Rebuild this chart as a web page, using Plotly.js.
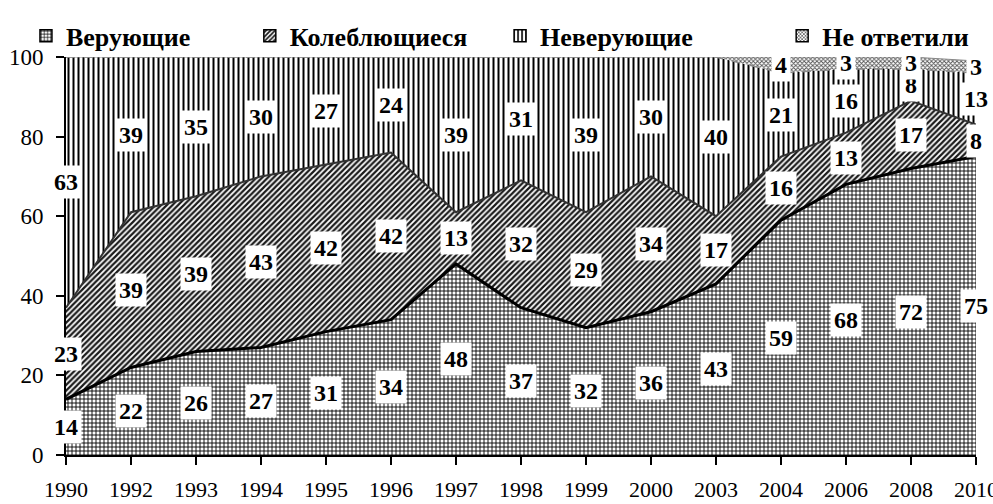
<!DOCTYPE html>
<html><head><meta charset="utf-8">
<script src="https://cdn.plot.ly/plotly-3.0.1.min.js"></script>
<style>html,body{margin:0;padding:0;background:#fff}#chart{width:993px;height:504px}</style>
</head><body><div id="chart"></div>
<script>
const years = ['1990','1992','1993','1994','1995','1996','1997','1998','1999','2000','2003','2004','2006','2008','2010'];
const believers    = [14, 22, 26, 27, 31, 34, 48, 37, 32, 36, 43, 59, 68, 72, 75];
const hesitant     = [23, 39, 39, 43, 42, 42, 13, 32, 29, 34, 17, 16, 13, 17, 8];
const nonBelievers = [63, 39, 35, 30, 27, 24, 39, 31, 39, 30, 40, 21, 16, 8, 13];
const noAnswer     = [0, 0, 0, 0, 0, 0, 0, 0, 0, 0, 0, 4, 3, 3, 3];
const seriesNames = ['Верующие', 'Колеблющиеся', 'Неверующие', 'Не ответили'];

const series = [believers, hesitant, nonBelievers, noAnswer];
const patterns = [
  {shape: '+', size: 4, solidity: 0.4, fgcolor: '#000', bgcolor: '#fff'},
  {shape: '/', size: 4, solidity: 0.55, fgcolor: '#1a1a1a', bgcolor: '#fff'},
  {shape: '|', size: 5, solidity: 0.4, fgcolor: '#000', bgcolor: '#fff'},
  {shape: 'x', size: 3, solidity: 0.5, fgcolor: '#555', bgcolor: '#fff'}
];
const lines = [
  {color: '#000', width: 3},
  {color: '#333', width: 2},
  {color: '#888', width: 1.5, dash: 'dash'},
  {color: '#888', width: 1}
];
const legendIds = ['legend', 'legend2', 'legend3', 'legend4'];
const legendX = [-0.044, 0.202, 0.477, 0.787];

const traces = [];
series.forEach((vals, k) => {
  traces.push({
    type: 'scatter', mode: 'lines', x: years, y: vals,
    stackgroup: 'one', line: lines[k], fillpattern: patterns[k],
    fillcolor: '#fff', showlegend: false, hoverinfo: 'skip'
  });
});
series.forEach((vals, k) => {
  traces.push({
    type: 'bar', x: [years[0]], y: [0], name: seriesNames[k],
    marker: {color: '#fff', pattern: patterns[k], line: {width: 1.5, color: '#000'}},
    showlegend: true, legend: legendIds[k], hoverinfo: 'skip'
  });
});

const annotations = [];
const base = years.map(() => 0);
series.forEach((vals, k) => {
  vals.forEach((v, i) => {
    if (v > 0) {
      annotations.push({
        x: i, y: base[i] + v / 2, xref: 'x', yref: 'y', text: String(v),
        showarrow: false, bgcolor: '#fff', borderpad: 3,
        font: {family: 'Liberation Serif', size: 24, color: '#000', weight: 'bold'}
      });
    }
    base[i] += v;
  });
});

const legendFont = {family: 'Liberation Serif', size: 26, color: '#000', weight: 'bold'};
const layout = {
  width: 993, height: 504,
  margin: {l: 66, r: 17, t: 42, b: 49},
  paper_bgcolor: '#fff', plot_bgcolor: '#fff',
  font: {family: 'Liberation Serif', size: 22, color: '#000'},
  xaxis: {
    type: 'category', range: [0, 14], showgrid: false, zeroline: false,
    showline: true, linecolor: '#000', linewidth: 2,
    ticks: 'outside', ticklen: 8, tickwidth: 2, tickcolor: '#000',
    ticklabelstandoff: 6, tickfont: {family: 'Liberation Serif', size: 22}
  },
  yaxis: {
    range: [0, 100], tickvals: [0, 20, 40, 60, 80, 100], showgrid: false, zeroline: false,
    showline: true, linecolor: '#000', linewidth: 2,
    ticks: 'outside', ticklen: 8, tickwidth: 2, tickcolor: '#000',
    ticklabelstandoff: 8, tickfont: {family: 'Liberation Serif', size: 23}
  },
  annotations: annotations,
  showlegend: true
};
legendIds.forEach((id, k) => {
  layout[id] = {
    x: legendX[k], xanchor: 'left', y: 1.053, yanchor: 'middle',
    orientation: 'h', bgcolor: 'rgba(0,0,0,0)', font: legendFont,
    borderwidth: 0, itemclick: false
  };
});

Plotly.newPlot('chart', traces, layout, {displayModeBar: false, staticPlot: true});
</script></body></html>
